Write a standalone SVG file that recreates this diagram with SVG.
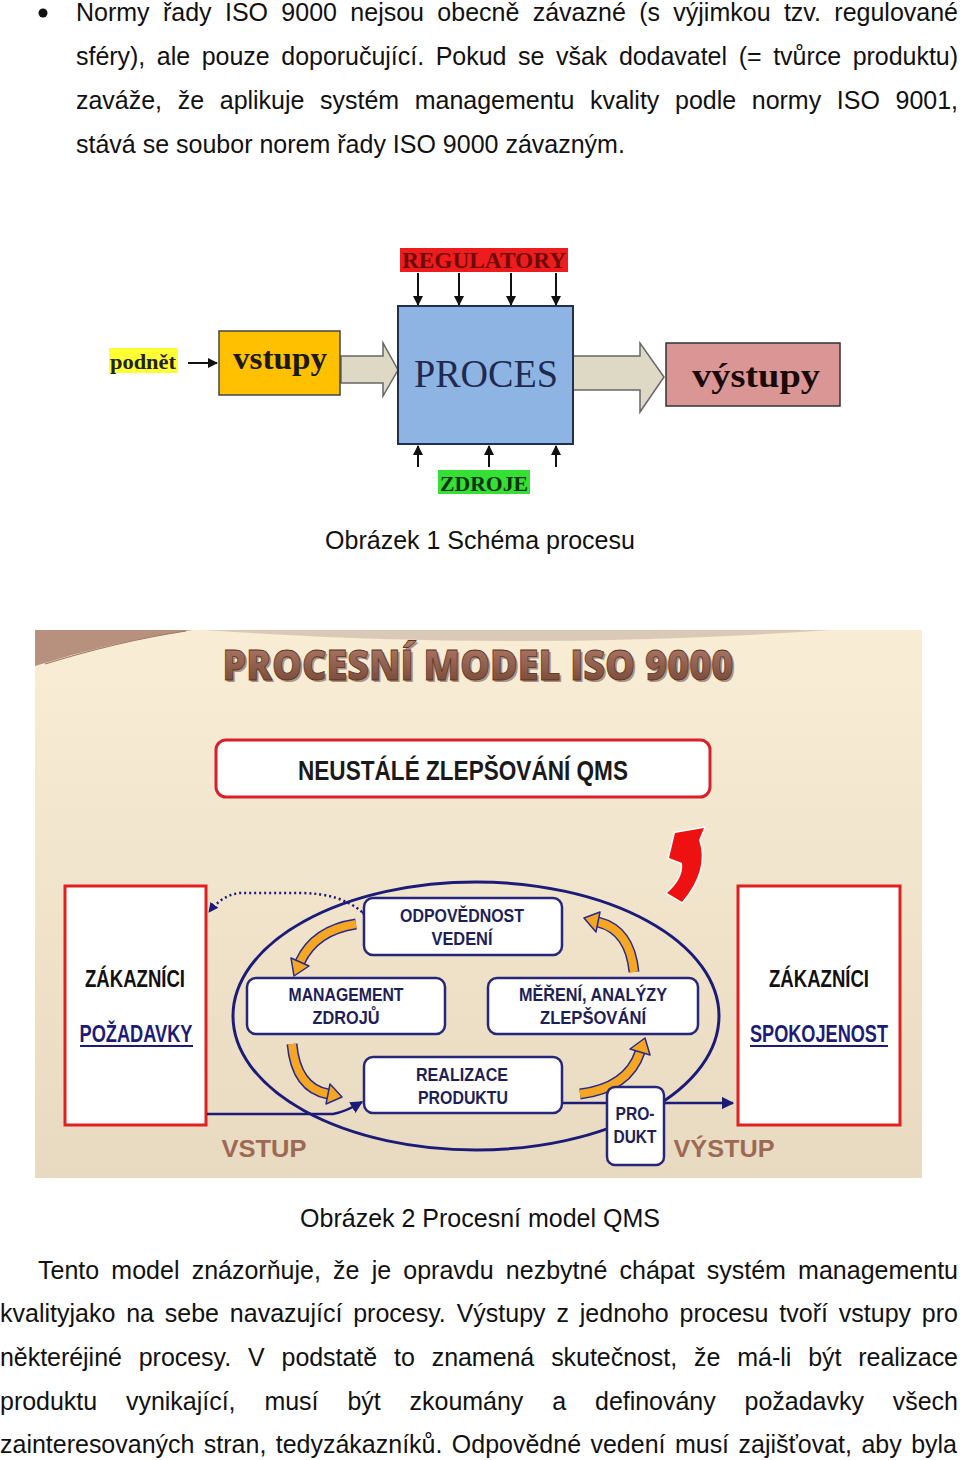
<svg xmlns="http://www.w3.org/2000/svg" width="960" height="1460" viewBox="0 0 960 1460">
<defs>
<style>
.body{font-family:"Liberation Sans",Arial,sans-serif;font-size:25px;fill:#111}
.serifb{font-family:"Liberation Serif","Times New Roman",serif;font-weight:bold}
.lbl{font-family:"Liberation Sans",Arial,sans-serif;font-weight:bold;fill:#1e1e58;font-size:19px}
.cust{font-family:"Liberation Sans",Arial,sans-serif;font-weight:bold;font-size:23px}
.thin{stroke:#111;stroke-width:2;fill:none}
.ibox{fill:#fff;stroke:#26267a;stroke-width:2.5}
.navy{stroke:#1c1c78;fill:none}
.orgout{stroke:#2a2a8a;stroke-width:11;fill:none}
.org{stroke:#f5a623;stroke-width:8;fill:none}
.orghead{fill:#f5a623;stroke:#2a2a8a;stroke-width:1.5;stroke-linejoin:round}
.io{font-family:"Liberation Sans",Arial,sans-serif;font-weight:bold;font-size:24px;fill:#9c6a54}
</style>
<marker id="ah" viewBox="0 0 10 10" refX="9" refY="5" markerWidth="5" markerHeight="5" orient="auto"><path d="M0,0 L10,5 L0,10 Z" fill="#111"/></marker>
<marker id="ahn" viewBox="0 0 10 10" refX="9" refY="5" markerWidth="5" markerHeight="5" orient="auto"><path d="M0,0 L10,5 L0,10 Z" fill="#1c1c78"/></marker>
<marker id="ahd" viewBox="0 0 10 10" refX="9" refY="5" markerWidth="4" markerHeight="4" orient="auto"><path d="M0,0 L10,5 L0,10 Z" fill="#1c1c78"/></marker>
<linearGradient id="bg2" x1="0" y1="0" x2="0" y2="1"><stop offset="0" stop-color="#f9edd6"/><stop offset="1" stop-color="#e8dac0"/></linearGradient>
<linearGradient id="tit" x1="0" y1="0" x2="0" y2="1"><stop offset="0" stop-color="#b88470"/><stop offset="1" stop-color="#6e4030"/></linearGradient>
</defs>

<rect width="960" height="1460" fill="#fff"/>

<!-- Top paragraph -->
<g id="text-top" class="body">
<circle cx="43" cy="13" r="4.5" fill="#111"/>
<text x="76" y="21" style="word-spacing:6.4px" textLength="882" lengthAdjust="spacing">Normy řady ISO 9000 nejsou obecně závazné (s výjimkou tzv. regulované</text>
<text x="76" y="65" style="word-spacing:4.7px" textLength="882" lengthAdjust="spacing">sféry), ale pouze doporučující. Pokud se však dodavatel (= tvůrce produktu)</text>
<text x="76" y="109" style="word-spacing:8.8px" textLength="882" lengthAdjust="spacing">zaváže, že aplikuje systém managementu kvality podle normy ISO 9001,</text>
<text x="76" y="153">stává se soubor norem řady ISO 9000 závazným.</text>
</g>

<!-- Figure 1 -->
<g id="fig1-connectors">
<line x1="188" y1="363" x2="217" y2="363" class="thin" marker-end="url(#ah)"/>
<line x1="418" y1="273" x2="418" y2="305" class="thin" marker-end="url(#ah)"/>
<line x1="459" y1="273" x2="459" y2="305" class="thin" marker-end="url(#ah)"/>
<line x1="511" y1="273" x2="511" y2="305" class="thin" marker-end="url(#ah)"/>
<line x1="556" y1="273" x2="556" y2="305" class="thin" marker-end="url(#ah)"/>
<line x1="418" y1="467" x2="418" y2="446" class="thin" marker-end="url(#ah)"/>
<line x1="489" y1="467" x2="489" y2="446" class="thin" marker-end="url(#ah)"/>
<line x1="556" y1="467" x2="556" y2="446" class="thin" marker-end="url(#ah)"/>
<polygon points="341,356 383,356 383,343 398,370 383,396 383,383 341,383" fill="#ddd9c4" stroke="#666" stroke-width="1.5"/>
<polygon points="573,356 640,356 640,343 664,377 640,412 640,390 573,390" fill="#ddd9c4" stroke="#666" stroke-width="1.5"/>
</g>
<g id="regulatory">
<rect x="400" y="248" width="168" height="24" fill="#ee1c1c"/>
<text x="484" y="268" class="serifb" font-size="23" fill="#6e0a0a" text-anchor="middle" textLength="164" lengthAdjust="spacingAndGlyphs">REGULATORY</text>
</g>
<g id="proces">
<rect x="398" y="306" width="175" height="138" fill="#8db4e2" stroke="#1f3050" stroke-width="2"/>
<text x="486" y="387" font-family="Liberation Serif,'Times New Roman',serif" font-size="41" fill="#1f2a50" text-anchor="middle" textLength="144" lengthAdjust="spacingAndGlyphs">PROCES</text>
</g>
<g id="zdroje">
<rect x="438" y="470" width="92" height="24" fill="#33e033"/>
<text x="484" y="491" class="serifb" font-size="22" fill="#0a300a" text-anchor="middle" textLength="88" lengthAdjust="spacingAndGlyphs">ZDROJE</text>
</g>
<g id="podnet">
<rect x="109" y="348" width="69" height="25" fill="#ffff33"/>
<text x="143" y="369" class="serifb" font-size="21" fill="#222" text-anchor="middle" textLength="66" lengthAdjust="spacingAndGlyphs">podnět</text>
</g>
<g id="vstupy">
<rect x="219" y="331" width="121" height="64" fill="#ffc000" stroke="#444" stroke-width="1.5"/>
<text x="280" y="369" class="serifb" font-size="32" fill="#1a1a1a" text-anchor="middle" textLength="94" lengthAdjust="spacingAndGlyphs">vstupy</text>
</g>
<g id="vystupy">
<rect x="666" y="343" width="174" height="63" fill="#d99694" stroke="#333" stroke-width="1.5"/>
<text x="756" y="387" class="serifb" font-size="34" fill="#1a0a0a" text-anchor="middle" textLength="128" lengthAdjust="spacingAndGlyphs">výstupy</text>
</g>
<text id="caption1" x="480" y="549" class="body" text-anchor="middle">Obrázek 1 Schéma procesu</text>

<!-- Figure 2 -->
<g id="fig2-background">
<rect x="35" y="630" width="887" height="548" fill="url(#bg2)"/>
<path d="M35,630 L192,630 Q110,642 35,666 Z" fill="#b8907e"/>
<path d="M45,664 Q120,641 186,631" stroke="#9a7866" stroke-width="1.2" fill="none"/>
<path d="M205,630 Q515,652 830,630 Z" fill="#d2bfae" opacity="0.8"/>
</g>
<g id="title">
<text x="480" y="682" font-family="'Open Sans','Liberation Sans',sans-serif" font-weight="800" font-size="42" fill="#4a2a1e" opacity="0.45" text-anchor="middle" textLength="511" lengthAdjust="spacingAndGlyphs">PROCESNÍ MODEL ISO 9000</text>
<text x="478" y="680" font-family="'Open Sans','Liberation Sans',sans-serif" font-weight="800" font-size="42" fill="url(#tit)" stroke="#5a3326" stroke-width="0.8" text-anchor="middle" textLength="511" lengthAdjust="spacingAndGlyphs">PROCESNÍ MODEL ISO 9000</text>
</g>
<g id="neustale">
<rect x="216" y="740" width="494" height="57" rx="10" fill="#fff" stroke="#d9202a" stroke-width="3"/>
<text x="463" y="780" font-family="'Liberation Sans',Arial,sans-serif" font-weight="bold" font-size="27" fill="#1a1a1a" text-anchor="middle" textLength="330" lengthAdjust="spacingAndGlyphs">NEUSTÁLÉ ZLEPŠOVÁNÍ QMS</text>
</g>
<g id="red-arrow">
<path d="M675,833 L704,828 L699,840 Q709,870 682,902 L667,893 Q684,878 682,863 L669,858 Z" fill="#ee1111" stroke="#fff" stroke-width="3" stroke-linejoin="round" paint-order="stroke"/>
</g>
<g id="cust-left">
<rect x="65" y="886" width="141" height="239" fill="#fff" stroke="#e02020" stroke-width="3"/>
<text x="135" y="987" class="cust" fill="#111" text-anchor="middle" textLength="100" lengthAdjust="spacingAndGlyphs">ZÁKAZNÍCI</text>
<text x="136" y="1042" class="cust" fill="#1c1c78" text-anchor="middle" textLength="113" lengthAdjust="spacingAndGlyphs">POŽADAVKY</text>
<line x1="80" y1="1046" x2="193" y2="1046" stroke="#1c1c78" stroke-width="2"/>
</g>
<g id="cust-right">
<rect x="738" y="886" width="162" height="239" fill="#fff" stroke="#e02020" stroke-width="3"/>
<text x="819" y="987" class="cust" fill="#111" text-anchor="middle" textLength="100" lengthAdjust="spacingAndGlyphs">ZÁKAZNÍCI</text>
<text x="819" y="1042" class="cust" fill="#1c1c78" text-anchor="middle" textLength="138" lengthAdjust="spacingAndGlyphs">SPOKOJENOST</text>
<line x1="750" y1="1046" x2="888" y2="1046" stroke="#1c1c78" stroke-width="2"/>
</g>
<g id="fig2-connectors">
<ellipse cx="476" cy="1016" rx="243" ry="134" class="navy" stroke-width="3"/>
<path d="M207,1114 L333,1114 Q345,1112 362,1102" class="navy" stroke-width="2.5" marker-end="url(#ahn)"/>
<line x1="562" y1="1103" x2="607" y2="1103" class="navy" stroke-width="2.5"/>
<line x1="664" y1="1103" x2="733" y2="1103" class="navy" stroke-width="2.5" marker-end="url(#ahn)"/>
<path d="M362,912 Q340,893 300,893 L240,893 Q222,895 209,912" class="navy" stroke-width="2.5" stroke-dasharray="2 3" marker-end="url(#ahd)" marker-start="url(#ahd)"/>
<g id="cycle-arrows">
<path d="M356,924 Q315,930 300,962" class="orgout"/>
<path d="M356,924 Q315,930 300,962" class="org"/>
<polygon points="309,966 294,976 291,958" class="orghead"/>
<path d="M634,972 Q630,930 598,922" class="orgout"/>
<path d="M634,972 Q630,930 598,922" class="org"/>
<polygon points="600,912 584,918 596,932" class="orghead"/>
<path d="M292,1044 Q296,1088 328,1094" class="orgout"/>
<path d="M292,1044 Q296,1088 328,1094" class="org"/>
<polygon points="326,1104 342,1097 330,1084" class="orghead"/>
<path d="M580,1094 Q628,1088 640,1052" class="orgout"/>
<path d="M580,1094 Q628,1088 640,1052" class="org"/>
<polygon points="650,1055 645,1038 630,1049" class="orghead"/>
</g>
</g>
<g id="odpovednost">
<rect x="364" y="898" width="198" height="57" rx="9" class="ibox"/>
<text x="462" y="922" class="lbl" text-anchor="middle" textLength="124" lengthAdjust="spacingAndGlyphs">ODPOVĚDNOST</text>
<text x="462" y="945" class="lbl" text-anchor="middle" textLength="61" lengthAdjust="spacingAndGlyphs">VEDENÍ</text>
</g>
<g id="management">
<rect x="247" y="978" width="198" height="56" rx="9" class="ibox"/>
<text x="346" y="1001" class="lbl" text-anchor="middle" textLength="115" lengthAdjust="spacingAndGlyphs">MANAGEMENT</text>
<text x="346" y="1024" class="lbl" text-anchor="middle" textLength="67" lengthAdjust="spacingAndGlyphs">ZDROJŮ</text>
</g>
<g id="mereni">
<rect x="488" y="978" width="210" height="56" rx="9" class="ibox"/>
<text x="593" y="1001" class="lbl" text-anchor="middle" textLength="148" lengthAdjust="spacingAndGlyphs">MĚŘENÍ, ANALÝZY</text>
<text x="593" y="1024" class="lbl" text-anchor="middle" textLength="106" lengthAdjust="spacingAndGlyphs">ZLEPŠOVÁNÍ</text>
</g>
<g id="realizace">
<rect x="364" y="1057" width="198" height="56" rx="9" class="ibox"/>
<text x="462" y="1081" class="lbl" text-anchor="middle" textLength="92" lengthAdjust="spacingAndGlyphs">REALIZACE</text>
<text x="463" y="1104" class="lbl" text-anchor="middle" textLength="90" lengthAdjust="spacingAndGlyphs">PRODUKTU</text>
</g>
<g id="produkt">
<rect x="607" y="1087" width="57" height="78" rx="8" class="ibox"/>
<text x="635" y="1120" class="lbl" text-anchor="middle" textLength="39" lengthAdjust="spacingAndGlyphs">PRO-</text>
<text x="635" y="1143" class="lbl" text-anchor="middle" textLength="43" lengthAdjust="spacingAndGlyphs">DUKT</text>
</g>
<text id="vstup" x="264" y="1157" class="io" text-anchor="middle" textLength="85" lengthAdjust="spacingAndGlyphs">VSTUP</text>
<text id="vystup" x="724" y="1157" class="io" text-anchor="middle" textLength="101" lengthAdjust="spacingAndGlyphs">VÝSTUP</text>

<text id="caption2" x="480" y="1227" class="body" text-anchor="middle">Obrázek 2 Procesní model QMS</text>

<g id="text-bottom" class="body">
<text x="38" y="1279" style="word-spacing:5.2px" textLength="920" lengthAdjust="spacing">Tento model znázorňuje, že je opravdu nezbytné chápat systém managementu</text>
<text x="0" y="1322" style="word-spacing:3.9px" textLength="958" lengthAdjust="spacing">kvalityjako na sebe navazující procesy. Výstupy z jednoho procesu tvoří vstupy pro</text>
<text x="0" y="1366" style="word-spacing:10px" textLength="958" lengthAdjust="spacing">některéjiné procesy. V podstatě to znamená skutečnost, že má-li být realizace</text>
<text x="0" y="1410" style="word-spacing:22px" textLength="958" lengthAdjust="spacing">produktu vynikající, musí být zkoumány a definovány požadavky všech</text>
<text x="0" y="1453" style="word-spacing:2.5px" textLength="957" lengthAdjust="spacing">zainteresovaných stran, tedyzákazníků. Odpovědné vedení musí zajišťovat, aby byla</text>
</g>
</svg>
